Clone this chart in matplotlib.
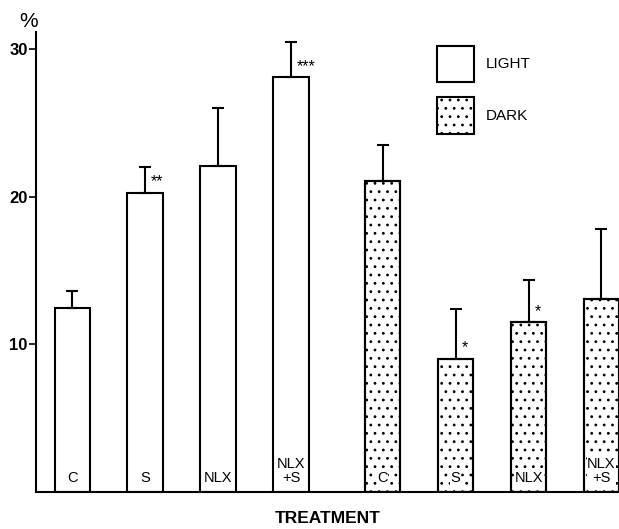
import matplotlib
matplotlib.use("Agg")
import matplotlib.pyplot as plt
import numpy as np

plt.rcParams['font.family'] = ['Liberation Sans', 'DejaVu Sans']
plt.rcParams['hatch.linewidth'] = 0.8

# data
treatments = ['C', 'S', 'NLX', 'NLX\n+S']
light_vals = [12.5, 20.3, 22.1, 28.1]
light_err = [1.1, 1.7, 3.9, 2.4]
light_sig = ['', '**', '', '***']
dark_vals = [21.1, 9.0, 11.5, 13.1]
dark_err = [2.4, 3.4, 2.9, 4.7]
dark_sig = ['', '*', '*', '']

x_light = np.arange(4)
x_dark = np.arange(4) + 4.25
w = 0.49

fig = plt.figure(figsize=(6.19, 5.29), dpi=100)
ax = fig.add_axes([0.058, 0.070, 0.942, 0.870])

ax.bar(x_light, light_vals, w, color='white', edgecolor='black', linewidth=1.5,
       label='LIGHT')
ax.bar(x_dark, dark_vals, w, color='white', edgecolor='black', linewidth=1.5,
       hatch='..', label='DARK')
# outlines again on top of the label boxes
ax.bar(x_dark, dark_vals, w, fill=False, edgecolor='black', linewidth=1.5, zorder=6)

err_up = dict(fmt='none', ecolor='black', elinewidth=1.5, capsize=4, capthick=1.5)
ax.errorbar(x_light, light_vals, yerr=[np.zeros(4), light_err], **err_up)
ax.errorbar(x_dark, dark_vals, yerr=[np.zeros(4), dark_err], **err_up)

for xs, vals, sig in [(x_light, light_vals, light_sig), (x_dark, dark_vals, dark_sig)]:
    for xi, v, s, t in zip(xs, vals, sig, treatments):
        ax.text(xi, 0.5, t, ha='center', va='bottom', fontsize=10.5,
                linespacing=1.0, zorder=5,
                bbox=dict(facecolor='white', edgecolor='none', pad=0.4))
        if s:
            ax.text(xi + 0.08, v + 0.25, s, ha='left', va='bottom', fontsize=11.5)

ax.set_xlim(-0.5, 7.49)
ax.set_ylim(0, 31.2)
ax.set_yticks([10, 20, 30])
ax.set_xticks([])
ax.tick_params(axis='y', labelsize=12, length=5, width=1.2, pad=1)
for lab in ax.get_yticklabels():
    lab.set_fontweight('bold')
for side in ['top', 'right']:
    ax.spines[side].set_visible(False)
for side in ['left', 'bottom']:
    ax.spines[side].set_linewidth(1.5)
    ax.spines[side].set_zorder(7)

ax.text(-0.012, 1.022, '%', transform=ax.transAxes, ha='center', va='center',
        fontsize=15)
ax.set_xlabel('TREATMENT', fontsize=12.5, fontweight='bold', labelpad=14)

ax.legend(loc='upper left', bbox_to_anchor=(0.688, 0.97), frameon=False,
          fontsize=11, handlelength=2.4, handleheight=3.3, labelspacing=1.0,
          handletextpad=0.8, borderpad=0, borderaxespad=0)

fig.savefig('out.png', dpi=100)
